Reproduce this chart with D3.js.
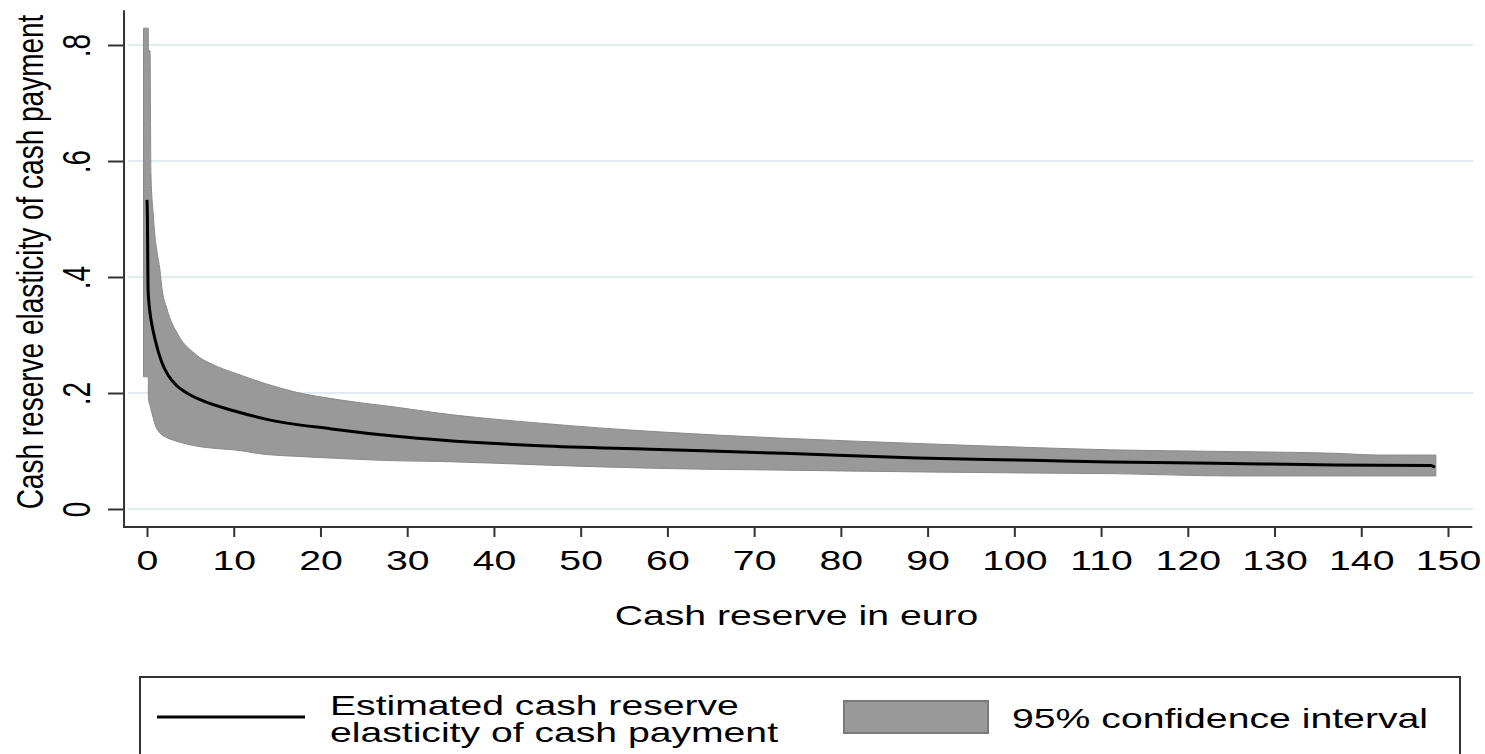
<!DOCTYPE html>
<html>
<head>
<meta charset="utf-8">
<script src="https://cdn.jsdelivr.net/npm/d3@7"></script>
<style>
  html, body { margin: 0; padding: 0; background: #fff; }
  svg { display: block; font-family: "Liberation Sans", Arial, sans-serif; }
</style>
</head>
<body>
<svg id="chart" width="1485" height="754"></svg>
<script>
// ---- data ----
const lineX = [0, 0.05, 0.12, 0.35, 0.54, 0.92, 1.7, 2.46, 3.4, 4.5, 6.2, 10.1, 13.7, 21.3, 29, 33.8, 45.3, 58, 73.4, 88.8, 102, 111, 123, 137, 148, 148.5];
const lineY = [0.533, 0.50, 0.38, 0.338, 0.32, 0.293, 0.253, 0.230, 0.213, 0.201, 0.188, 0.169, 0.155, 0.138, 0.125, 0.119, 0.109, 0.103, 0.096, 0.088, 0.084, 0.081, 0.079, 0.076, 0.075, 0.072];

const bandX     = [-0.4, 0.15, 0.16, 0.35, 0.45, 0.7, 0.92, 1.12, 1.5, 1.7, 2.3, 3.6, 5.5, 8.2, 10.0, 13.7, 17, 22.3, 29, 33.8, 45.3, 59, 73.4, 88.8, 102, 111, 125, 137, 142, 148.6];
const bandUpper = [0.829, 0.829, 0.79, 0.79, 0.579, 0.512, 0.47, 0.447, 0.411, 0.383, 0.345, 0.300, 0.268, 0.245, 0.235, 0.216, 0.202, 0.188, 0.175, 0.165, 0.148, 0.133, 0.122, 0.113, 0.106, 0.102, 0.099, 0.096, 0.093, 0.093];
const bandLower = [0.228, 0.228, 0.19, 0.178, 0.172, 0.158, 0.146, 0.139, 0.131, 0.128, 0.123, 0.116, 0.109, 0.104, 0.102, 0.094, 0.091, 0.087, 0.083, 0.082, 0.076, 0.070, 0.067, 0.064, 0.062, 0.061, 0.057, 0.057, 0.057, 0.057];

const xTicks = [0, 10, 20, 30, 40, 50, 60, 70, 80, 90, 100, 110, 120, 130, 140, 150];
const yTicks = [0, 0.2, 0.4, 0.6, 0.8];
const yTickLabels = ["0", ".2", ".4", ".6", ".8"];

const xTitle = "Cash reserve in euro";
const yTitle = "Cash reserve elasticity of cash payment";
const legendLineLabel = ["Estimated cash reserve", "elasticity of cash payment"];
const legendBandLabel = "95% confidence interval";

// ---- drawing ----
const svg = d3.select("#chart");
const SX = 1.4; // horizontal stretch of the reference's glyphs

const x = d3.scaleLinear().domain([0, 150]).range([147, 1448]);
const y = d3.scaleLinear().domain([0, 0.8]).range([509, 45]);

const xFrame = [-2.65, 152.8];
const yFrame = [-0.031, 0.86];

// grid lines
svg.append("g").selectAll("line").data(yTicks).join("line")
  .attr("x1", x(-2.2)).attr("x2", x(152.9))
  .attr("y1", d => y(d)).attr("y2", d => y(d))
  .attr("stroke", "#e1ecf0").attr("stroke-width", 2);

// confidence band
const bandData = bandX.map((v, i) => ({x: v, lo: bandLower[i], hi: bandUpper[i]}));
svg.append("path")
  .datum(bandData)
  .attr("d", d3.area().x(d => x(d.x)).y0(d => y(d.lo)).y1(d => y(d.hi)).curve(d3.curveMonotoneX))
  .attr("fill", "#999999")
  .attr("stroke", "#8a8a8a")
  .attr("stroke-width", 1);

// estimate line
const lineData = lineX.map((v, i) => ({x: v, y: lineY[i]}));
svg.append("path")
  .datum(lineData)
  .attr("d", d3.line().x(d => x(d.x)).y(d => y(d.y)).curve(d3.curveMonotoneX))
  .attr("fill", "none")
  .attr("stroke", "#000")
  .attr("stroke-width", 3);

// x axis
const xAxisG = svg.append("g").attr("transform", `translate(0,${y(yFrame[0])})`)
  .call(d3.axisBottom(x).tickValues(xTicks).tickSize(10).tickSizeOuter(0).tickFormat(d3.format("d")));
xAxisG.select(".domain").remove();
xAxisG.selectAll(".tick line").attr("stroke", "#333").attr("stroke-width", 2);
xAxisG.selectAll(".tick text")
  .attr("y", 43).attr("dy", null)
  .attr("transform", `scale(${SX},1)`)
  .attr("font-size", 28).attr("fill", "#000")
  .attr("font-family", "Liberation Sans, Arial, sans-serif");

// y axis
const yAxisG = svg.append("g").attr("transform", `translate(${x(xFrame[0])},0)`)
  .call(d3.axisLeft(y).tickValues(yTicks).tickSize(16).tickSizeOuter(0)
    .tickFormat((d, i) => yTickLabels[i]));
yAxisG.select(".domain").remove();
yAxisG.selectAll(".tick line").attr("stroke", "#333").attr("stroke-width", 2);
yAxisG.selectAll(".tick text")
  .attr("x", null).attr("dy", null)
  .attr("text-anchor", "middle")
  .attr("transform", `translate(-34,0) scale(${SX},1) rotate(-90)`)
  .attr("font-size", 28).attr("fill", "#000")
  .attr("font-family", "Liberation Sans, Arial, sans-serif");

// axis frame lines
svg.append("line")
  .attr("x1", x(xFrame[0])).attr("x2", x(xFrame[0]))
  .attr("y1", y(yFrame[1])).attr("y2", y(yFrame[0]) + 1)
  .attr("stroke", "#333").attr("stroke-width", 2);
svg.append("line")
  .attr("x1", x(xFrame[0]) - 1).attr("x2", x(xFrame[1]))
  .attr("y1", y(yFrame[0])).attr("y2", y(yFrame[0]))
  .attr("stroke", "#333").attr("stroke-width", 2);

// axis titles
svg.append("text")
  .attr("transform", `translate(${(x(0) + x(150)) / 2 - 1},625) scale(${SX},1)`)
  .attr("text-anchor", "middle").attr("font-size", 28).attr("fill", "#000")
  .text(xTitle);
svg.append("text")
  .attr("transform", `translate(43,262) scale(1.35,1) rotate(-90)`)
  .attr("text-anchor", "middle").attr("font-size", 28).attr("fill", "#000")
  .text(yTitle);

// legend
const leg = svg.append("g");
leg.append("rect")
  .attr("x", 140).attr("y", 677).attr("width", 1320).attr("height", 100)
  .attr("fill", "#fff").attr("stroke", "#333").attr("stroke-width", 2);
leg.append("line")
  .attr("x1", 157).attr("x2", 305).attr("y1", 717).attr("y2", 717)
  .attr("stroke", "#000").attr("stroke-width", 3);
leg.selectAll("text.l1").data(legendLineLabel).join("text")
  .attr("class", "l1")
  .attr("transform", (d, i) => `translate(330,${715 + i * 27}) scale(1.45,1)`)
  .attr("font-size", 27).attr("fill", "#000")
  .text(d => d);
leg.append("rect")
  .attr("x", 844).attr("y", 701).attr("width", 144).attr("height", 32)
  .attr("fill", "#999999").attr("stroke", "#7a7a7a").attr("stroke-width", 2);
leg.append("text")
  .attr("transform", `translate(1012,728) scale(${SX},1)`)
  .attr("font-size", 28).attr("fill", "#000")
  .text(legendBandLabel);
</script>
</body>
</html>
